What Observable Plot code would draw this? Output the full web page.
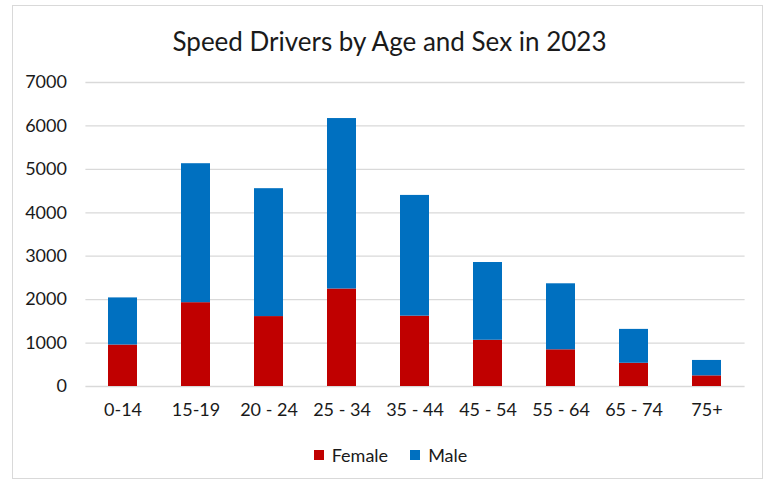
<!DOCTYPE html>
<html>
<head>
<meta charset="utf-8">
<script src="https://cdn.jsdelivr.net/npm/d3@7"></script>
<script src="https://cdn.jsdelivr.net/npm/@observablehq/plot@0.6"></script>
<style>
  body { margin: 0; background: #fff; }
  #wrap { position: relative; width: 767px; height: 485px; font-family: Lato, "Open Sans", sans-serif; color: #1a1a1a; overflow: hidden; }
  #frame { position: absolute; left: 12px; top: 5px; width: 751px; height: 474px; border: 1px solid #d9d9d9; box-sizing: border-box; }
  #title { position: absolute; left: 6px; width: 767px; top: 25px; text-align: center; font-size: 26px; line-height: 32px; }
  #chart { position: absolute; left: 0; top: 0; }
  #legend { position: absolute; left: 7px; width: 767px; top: 444px; display: flex; justify-content: center; gap: 22px; font-size: 18px; line-height: 22px; }
  .item { display: flex; align-items: center; }
  .sw { width: 10px; height: 10px; margin-right: 8px; }
</style>
</head>
<body>
<div id="wrap">
  <div id="frame"></div>
  <div id="title">Speed Drivers by Age and Sex in 2023</div>
  <div id="chart"></div>
  <div id="legend"></div>
</div>
<script>
const ageGroups = ["0-14", "15-19", "20 - 24", "25 - 34", "35 - 44", "45 - 54", "55 - 64", "65 - 74", "75+"];
const female = [955, 1930, 1610, 2245, 1620, 1065, 845, 535, 245];
const male = [1085, 3200, 2945, 3925, 2780, 1790, 1520, 780, 355];
const sexes = ["Female", "Male"];
const colors = ["#C00000", "#0070C0"];
const yTicks = [0, 1000, 2000, 3000, 4000, 5000, 6000, 7000];

const rows = [];
ageGroups.forEach((a, i) => {
  rows.push({age: a, sex: "Female", value: female[i]});
  rows.push({age: a, sex: "Male", value: male[i]});
});

const chart = Plot.plot({
  width: 767,
  height: 420,
  marginTop: 82,
  marginBottom: 34,
  marginLeft: 85.4,
  marginRight: 22.4,
  style: {fontFamily: "Lato, 'Open Sans', sans-serif", fontSize: "18px", color: "#1a1a1a", background: "transparent", overflow: "visible"},
  x: {domain: ageGroups, paddingInner: 0.6, paddingOuter: 0.3, label: null},
  y: {domain: [0, 7000], label: null},
  color: {domain: sexes, range: colors},
  marks: [
    Plot.gridY(yTicks, {stroke: "#d9d9d9", strokeOpacity: 1, strokeWidth: 1.3}),
    Plot.barY(rows, Plot.stackY({x: "age", y: "value", fill: "sex", order: sexes})),
    Plot.axisX({tickSize: 0, tickPadding: 17, label: null}),
    Plot.axisY(yTicks, {tickSize: 0, tickPadding: 19, label: null, tickFormat: d => String(d)})
  ]
});
document.getElementById("chart").appendChild(chart);

const legend = document.getElementById("legend");
sexes.forEach((s, i) => {
  const it = document.createElement("div");
  it.className = "item";
  const sw = document.createElement("span");
  sw.className = "sw";
  sw.style.background = colors[i];
  const t = document.createElement("span");
  t.textContent = s;
  it.appendChild(sw); it.appendChild(t);
  legend.appendChild(it);
});
</script>
</body>
</html>
